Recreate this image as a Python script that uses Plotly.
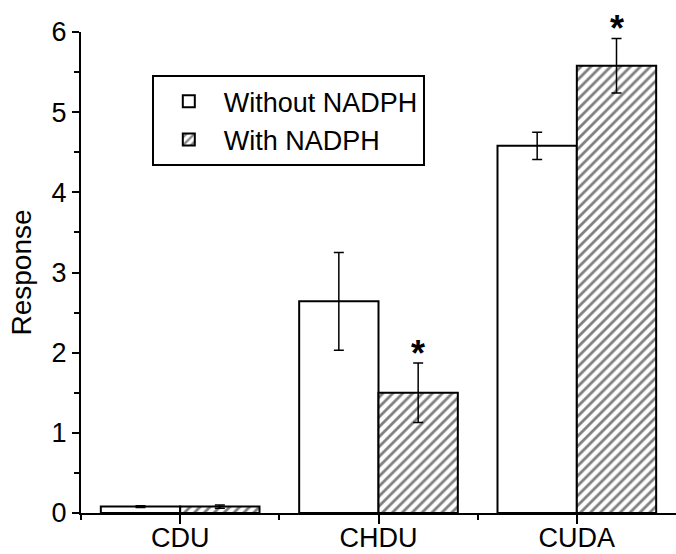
import plotly.graph_objects as go

categories = ["CDU", "CHDU", "CUDA"]
without_vals = [0.08, 2.64, 4.58]
without_err = [0.01, 0.61, 0.17]
with_vals = [0.08, 1.50, 5.58]
with_err = [0.02, 0.37, 0.34]
significant = [False, True, True]
y_ticks = [0, 1, 2, 3, 4, 5, 6]

FONT = "Liberation Sans, Arial, sans-serif"
xpos = list(range(len(categories)))

fig = go.Figure()
fig.add_trace(go.Bar(
    x=xpos, y=without_vals, name="Without NADPH",
    marker=dict(color="white", line=dict(color="black", width=2)),
    error_y=dict(type="data", array=without_err, visible=True,
                 color="black", thickness=1.5, width=5),
))
fig.add_trace(go.Bar(
    x=xpos, y=with_vals, name="With NADPH",
    marker=dict(color="white", line=dict(color="black", width=2),
                pattern=dict(shape="/", fgcolor="black", bgcolor="white",
                             size=7, solidity=0.4)),
    error_y=dict(type="data", array=with_err, visible=True,
                 color="black", thickness=1.5, width=5),
))

for i, sig in enumerate(significant):
    if sig:
        fig.add_annotation(
            x=xpos[i] + 0.2, y=with_vals[i] + with_err[i],
            xref="x", yref="y", text="<b>*</b>", showarrow=False,
            yanchor="bottom", yshift=-13,
            font=dict(family=FONT, size=36, color="black"),
        )

fig.update_layout(
    width=676, height=554,
    margin=dict(l=81, r=0, t=32, b=41),
    paper_bgcolor="white", plot_bgcolor="white",
    barmode="group", bargap=0.2, bargroupgap=0,
    font=dict(family=FONT, size=27, color="black"),
    showlegend=True,
    legend=dict(
        x=0.119, y=0.91, xanchor="left", yanchor="top",
        bordercolor="black", borderwidth=2, bgcolor="white",
        font=dict(family=FONT, size=27, color="black"),
        itemwidth=60, tracegroupgap=0,
    ),
    xaxis=dict(
        range=[-0.5, 2.5], tickmode="array", tickvals=xpos, ticktext=categories,
        showline=True, linecolor="black", linewidth=2,
        ticks="outside", ticklen=9, tickwidth=2, tickcolor="black",
        showgrid=False, zeroline=False, automargin=False,
        ticklabelstandoff=-9,
        minor=dict(tickmode="array", tickvals=[-0.5, 0.5, 1.5],
                   ticks="outside", ticklen=5, tickwidth=2, tickcolor="black"),
        tickfont=dict(size=27),
    ),
    yaxis=dict(
        range=[0, 6], tickmode="array", tickvals=y_ticks,
        showline=True, linecolor="black", linewidth=2,
        ticks="outside", ticklen=7, tickwidth=2, tickcolor="black",
        showgrid=False, zeroline=False, automargin=False,
        minor=dict(dtick=0.5, ticks="outside", ticklen=5, tickwidth=2,
                   tickcolor="black"),
        title=dict(text="Response", font=dict(size=28), standoff=12),
        tickfont=dict(size=27),
    ),
)

fig.write_html("out.html")
